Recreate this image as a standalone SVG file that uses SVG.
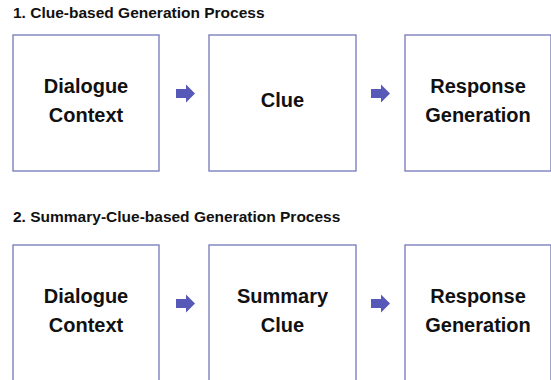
<svg xmlns="http://www.w3.org/2000/svg" width="551" height="380" viewBox="0 0 551 380">
<style>
.box{fill:#ffffff;stroke:#7478b8;stroke-width:1.3}
.t{font-family:"Liberation Sans",Arial,sans-serif;font-weight:bold;fill:#111111;text-anchor:middle;font-size:20px}
.h{font-family:"Liberation Sans",Arial,sans-serif;font-weight:bold;fill:#111111;font-size:15.5px}
.arr{fill:#5659b8}
</style>
<defs>
<path id="a" d="M0,-4.5 H10 V-9 L19,0 L10,9 V4.5 H0 Z"/>
</defs>
<rect width="551" height="380" fill="#ffffff"/>
<text class="h" x="13" y="17.5">1. Clue-based Generation Process</text>
<text class="h" x="13" y="221.5">2. Summary-Clue-based Generation Process</text>
<g id="n1"><rect class="box" x="13" y="35" width="146" height="136"/><text class="t" x="86" y="93">Dialogue</text><text class="t" x="86" y="122">Context</text></g>
<g id="n2"><rect class="box" x="209" y="35" width="147" height="136"/><text class="t" x="282.5" y="107">Clue</text></g>
<g id="n3"><rect class="box" x="405" y="35" width="146" height="136"/><text class="t" x="478" y="93">Response</text><text class="t" x="478" y="122">Generation</text></g>
<g id="n4"><rect class="box" x="13" y="245" width="146" height="140"/><text class="t" x="86" y="303">Dialogue</text><text class="t" x="86" y="332">Context</text></g>
<g id="n5"><rect class="box" x="209" y="245" width="147" height="140"/><text class="t" x="282.5" y="303">Summary</text><text class="t" x="282.5" y="332">Clue</text></g>
<g id="n6"><rect class="box" x="405" y="245" width="146" height="140"/><text class="t" x="478" y="303">Response</text><text class="t" x="478" y="332">Generation</text></g>
<g id="connectors">
<use href="#a" class="arr" x="176" y="93.5"/>
<use href="#a" class="arr" x="371" y="93.5"/>
<use href="#a" class="arr" x="176" y="303.5"/>
<use href="#a" class="arr" x="371" y="303.5"/>
</g>
</svg>
